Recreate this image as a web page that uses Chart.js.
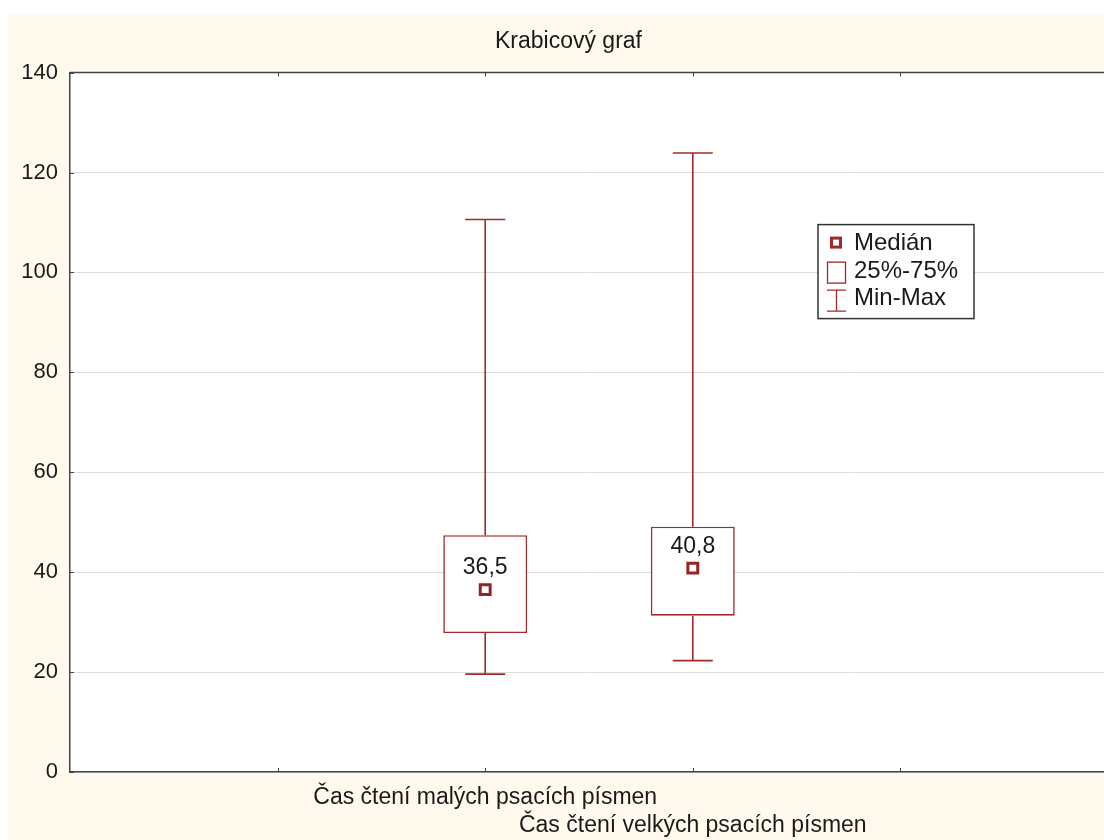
<!DOCTYPE html>
<html>
<head>
<meta charset="utf-8">
<script src="https://cdn.jsdelivr.net/npm/chart.js@4"></script>
<style>
  body { margin: 0; background: #ffffff; overflow: hidden; }
  #wrap { position: absolute; left: 8px; top: 15px; width: 1112px; height: 825px; background: #fff9ee; }
</style>
</head>
<body>
<div id="wrap"><canvas id="myChart"></canvas></div>
<script>
// data
const categories = ["Čas čtení malých psacích písmen", "Čas čtení velkých psacích písmen"];
const mins = [19.6, 22.3];
const q1s = [27.8, 31.3];
const medians = [36.5, 40.8];
const q3s = [47.4, 49.1];
const maxs = [110.6, 123.9];
const yTicks = [0, 20, 40, 60, 80, 100, 120, 140];
const legendLabels = ["Medián", "25%-75%", "Min-Max"];

const RED = "#a12a2a";
const FONT = "'Liberation Sans', Arial, sans-serif";

// two empty slots on each side of the boxes, second label drops to a 2nd line
const axisLabels = ["", "", ...categories.map((c, i) => (i % 2 ? ["", c] : [c])), "", ""];
const pad = (arr) => [null, null, ...arr, null, null];

const boxPlugin = {
  id: "boxPlugin",
  beforeDraw(chart) {
    const { ctx, chartArea: a } = chart;
    ctx.save();
    ctx.fillStyle = "#ffffff";
    ctx.fillRect(a.left, a.top, a.right - a.left, a.bottom - a.top);
    ctx.restore();
  },
  beforeDatasetsDraw(chart) {
    const { ctx, scales } = chart;
    const x = scales.x, y = scales.y;
    ctx.save();
    ctx.strokeStyle = RED;
    ctx.lineWidth = 1.6;
    categories.forEach((c, i) => {
      const px = x.getPixelForValue(i + 2);
      const capHalf = 20;
      const segs = [
        [px, y.getPixelForValue(maxs[i]), px, y.getPixelForValue(q3s[i])],
        [px, y.getPixelForValue(q1s[i]), px, y.getPixelForValue(mins[i])],
        [px - capHalf, y.getPixelForValue(maxs[i]), px + capHalf, y.getPixelForValue(maxs[i])],
        [px - capHalf, y.getPixelForValue(mins[i]), px + capHalf, y.getPixelForValue(mins[i])],
      ];
      segs.forEach(([x1, y1, x2, y2]) => {
        ctx.beginPath();
        ctx.moveTo(x1, y1);
        ctx.lineTo(x2, y2);
        ctx.stroke();
      });
    });
    ctx.restore();
  },
  afterDatasetsDraw(chart) {
    const { ctx, scales, chartArea: a } = chart;
    const x = scales.x, y = scales.y;
    ctx.save();

    // median value labels
    ctx.fillStyle = "#1a1a1a";
    ctx.font = "23px " + FONT;
    ctx.textAlign = "center";
    ctx.textBaseline = "middle";
    medians.forEach((m, i) => {
      ctx.fillText(m.toFixed(1).replace(".", ","), x.getPixelForValue(i + 2), y.getPixelForValue(m) - 22);
    });

    // frame top line and inner tick marks
    ctx.strokeStyle = "#444444";
    ctx.lineWidth = 1.5;
    ctx.beginPath();
    ctx.moveTo(a.left, a.top);
    ctx.lineTo(a.right + 2, a.top);
    ctx.stroke();
    ctx.lineWidth = 1;
    for (let v = 1; v < axisLabels.length - 1; v++) {
      const px = Math.round(x.getPixelForValue(v)) + 0.5;
      ctx.beginPath();
      ctx.moveTo(px, a.top);
      ctx.lineTo(px, a.top + 4);
      ctx.moveTo(px, a.bottom);
      ctx.lineTo(px, a.bottom - 4);
      ctx.stroke();
    }
    yTicks.forEach((t) => {
      const py = Math.round(y.getPixelForValue(t)) + 0.5;
      ctx.beginPath();
      ctx.moveTo(a.left, py);
      ctx.lineTo(a.left + 4, py);
      ctx.stroke();
    });

    // legend box
    const lx = a.left + 748, ly = a.top + 152;
    ctx.fillStyle = "#ffffff";
    ctx.fillRect(lx, ly, 156, 94);
    ctx.strokeStyle = "#333333";
    ctx.lineWidth = 1.5;
    ctx.strokeRect(lx, ly, 156, 94);

    ctx.strokeStyle = RED;
    ctx.lineWidth = 3;
    ctx.strokeRect(lx + 13.5, ly + 13.5, 9, 9);
    ctx.lineWidth = 1.3;
    ctx.strokeRect(lx + 9.5, ly + 37.5, 18, 21);
    ctx.beginPath();
    ctx.moveTo(lx + 9, ly + 65.5);
    ctx.lineTo(lx + 28, ly + 65.5);
    ctx.moveTo(lx + 18.5, ly + 65.5);
    ctx.lineTo(lx + 18.5, ly + 86.5);
    ctx.moveTo(lx + 9, ly + 86.5);
    ctx.lineTo(lx + 28, ly + 86.5);
    ctx.stroke();

    ctx.fillStyle = "#1a1a1a";
    ctx.textAlign = "left";
    ctx.textBaseline = "middle";
    ctx.font = "24px " + FONT;
    legendLabels.forEach((t, i) => {
      ctx.fillText(t, lx + 36, ly + [19, 47, 74][i]);
    });
    ctx.restore();
  },
};

const ctx = document.getElementById("myChart").getContext("2d");
const myChart = new Chart(ctx, {
  data: {
    labels: axisLabels,
    datasets: [
      {
        type: "bar",
        label: "25%-75%",
        data: pad(categories.map((c, i) => [q1s[i], q3s[i]])),
        backgroundColor: "#ffffff",
        borderColor: RED,
        borderWidth: 1.6,
        borderSkipped: false,
        categoryPercentage: 1,
        barPercentage: 0.404,
        order: 2,
      },
      {
        type: "line",
        label: "Medián",
        data: pad(medians),
        showLine: false,
        pointStyle: "rect",
        pointRadius: 7,
        pointBorderWidth: 3,
        pointBackgroundColor: "#ffffff",
        pointBorderColor: "#962424",
        order: 1,
      },
    ],
  },
  options: {
    responsive: true,
    maintainAspectRatio: false,
    animation: false,
    layout: { padding: { left: 13, right: 4, top: 0, bottom: 0 } },
    plugins: {
      legend: { display: false },
      tooltip: { enabled: false },
      title: {
        display: true,
        text: "Krabicový graf",
        color: "#1a1a1a",
        font: { family: FONT, size: 23, weight: "normal" },
        padding: { top: 13, bottom: 17 },
      },
    },
    scales: {
      x: {
        type: "category",
        offset: false,
        grid: { display: false, drawTicks: false },
        border: { display: true, color: "#444444", width: 1.5 },
        afterFit: (axis) => { axis.height = 68; },
        ticks: {
          autoSkip: false,
          maxRotation: 0,
          minRotation: 0,
          padding: 12,
          color: "#1a1a1a",
          font: { family: FONT, size: 23 },
        },
      },
      y: {
        min: 0,
        max: 140,
        afterBuildTicks: (axis) => {
          axis.ticks = yTicks.map((v) => ({ value: v }));
        },
        afterFit: (axis) => { axis.width = 49; },
        grid: { color: "#dddddd", lineWidth: 1, drawTicks: false },
        border: { display: true, color: "#444444", width: 1.5 },
        ticks: {
          padding: 12,
          color: "#1a1a1a",
          font: { family: FONT, size: 22 },
        },
      },
    },
  },
  plugins: [boxPlugin],
});
</script>
</body>
</html>
